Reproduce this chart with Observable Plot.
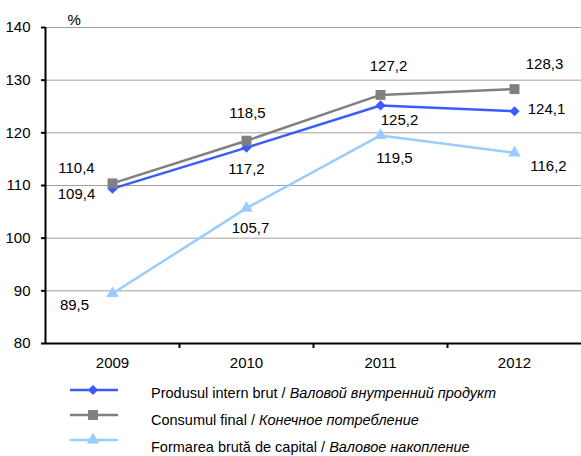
<!DOCTYPE html>
<html>
<head>
<meta charset="utf-8">
<script src="https://cdn.jsdelivr.net/npm/d3@7"></script>
<script src="https://cdn.jsdelivr.net/npm/@observablehq/plot@0.6"></script>
<style>
  body { margin: 0; background: #fff; font-family: "Liberation Sans", Arial, sans-serif; }
  #wrap { position: relative; width: 581px; height: 456px; overflow: hidden; }
  #legend { position: absolute; left: 0; top: 372px; width: 581px; }
  .row { position: absolute; left: 0; height: 26px; width: 581px; }
  .row svg { position: absolute; left: 68px; top: 0; }
  .row span { position: absolute; left: 151px; font-size: 14.5px; color: #000; white-space: nowrap; }
</style>
</head>
<body>
<div id="wrap"><div id="chart"></div><div id="legend"></div></div>
<script>
const years = [2009, 2010, 2011, 2012];
const pib = [109.4, 117.2, 125.2, 124.1];
const consum = [110.4, 118.5, 127.2, 128.3];
const formare = [89.5, 105.7, 119.5, 116.2];
const seriesRo = ["Produsul intern brut", "Consumul final", "Formarea brută de capital"];
const seriesRu = ["Валовой внутренний продукт", "Конечное потребление", "Валовое накопление"];
const yTicks = [80, 90, 100, 110, 120, 130, 140];

// styling (not data)
const colors = ["#3a5cff", "#808080", "#99ccff"];
const symbols = ["diamond2", "square", "triangle"];
const radii = [4.6, 5.6, 4.6];
const labelOffsets = [
  [[-36, 6], [0, 22], [19, 15], [32, -2]],
  [[-36, -15], [1, -28], [8, -29], [30, -25]],
  [[-38, 12], [4, 20], [14, 23], [34, 13]]
];
const legendLineY = [18, 43, 68];
const legendTextTop = [13, 40, 67];

const values = [pib, consum, formare];
const series = values.map((vals, s) => years.map((year, i) => ({year, value: vals[i], s})));
const fmt = v => v.toFixed(1).replace(".", ",");

const marks = [
  Plot.gridY(yTicks.slice(1), {stroke: "#a0a0a0", strokeOpacity: 1, strokeWidth: 1}),
  Plot.axisY({ticks: yTicks, label: null, tickSize: 4, tickPadding: 11, fontSize: 15, stroke: "#000", strokeWidth: 2, tickFormat: d => d}),
  Plot.axisX({ticks: [2009.5, 2010.5, 2011.5], label: null, tickSize: 5, stroke: "#000", strokeWidth: 2, tickFormat: () => ""}),
  Plot.axisX({ticks: years, label: null, tickSize: 0, tickPadding: 14, fontSize: 15, tickFormat: d => String(d)}),
  Plot.ruleX([2008.5], {stroke: "#000", strokeWidth: 2}),
  Plot.ruleY([80], {stroke: "#000", strokeWidth: 2}),
  Plot.text(["%"], {frameAnchor: "top-left", dx: 22, dy: -13, fontSize: 15, fill: "#000"})
];

series.forEach((data, s) => {
  marks.push(Plot.line(data, {x: "year", y: "value", stroke: colors[s], strokeWidth: 2.5}));
  marks.push(Plot.dot(data, {x: "year", y: "value", fill: colors[s], stroke: "none", symbol: symbols[s], r: radii[s]}));
});
series.forEach((data, s) => {
  data.forEach((d, i) => {
    marks.push(Plot.text([d], {x: "year", y: "value", text: d => fmt(d.value), dx: labelOffsets[s][i][0], dy: labelOffsets[s][i][1], fontSize: 15, fill: "#000"}));
  });
});

const chart = Plot.plot({
  width: 581,
  height: 372,
  marginLeft: 45,
  marginRight: 0,
  marginTop: 27,
  marginBottom: 29,
  style: {fontFamily: '"Liberation Sans", Arial, sans-serif', color: "#000", background: "#fff"},
  x: {domain: [2008.5, 2012.5], axis: null, label: null},
  y: {domain: [80, 140], axis: null, label: null},
  marks
});
document.getElementById("chart").appendChild(chart);

const legend = document.getElementById("legend");
const symMap = {diamond2: d3.symbolDiamond2, square: d3.symbolSquare, triangle: d3.symbolTriangle};
seriesRo.forEach((name, s) => {
  const size = Math.PI * radii[s] * radii[s];
  const path = d3.symbol(symMap[symbols[s]], size)();
  const svgEl = document.createElement("div");
  svgEl.innerHTML = `<svg width="52" height="24" style="position:absolute;left:68px;top:${legendLineY[s] - 12}px"><line x1="2" x2="50" y1="12" y2="12" stroke="${colors[s]}" stroke-width="2.5"/><path d="${path}" transform="translate(25,12)" fill="${colors[s]}"/></svg><span style="position:absolute;left:151px;top:${legendTextTop[s]}px;font-size:14.5px;white-space:nowrap">${name} / <i>${seriesRu[s]}</i></span>`;
  legend.appendChild(svgEl);
});
</script>
</body>
</html>
